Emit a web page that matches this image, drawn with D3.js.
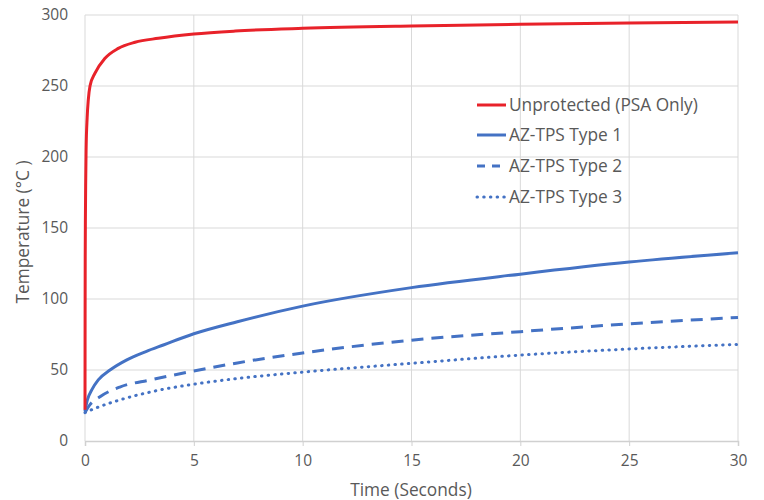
<!DOCTYPE html>
<html><head><meta charset="utf-8">
<script src="https://cdn.jsdelivr.net/npm/d3@7"></script>
<style>body{margin:0;background:#fff;} text{font-family:"Open Sans",sans-serif;fill:#595959;}</style>
</head><body><svg id="c" width="764" height="500"></svg>
<script>
const seriesNames = ["Unprotected (PSA Only)","AZ-TPS Type 1","AZ-TPS Type 2","AZ-TPS Type 3"];
const unprotectedT = [0,0.005,0.01,0.02,0.03,0.05,0.1,0.15,0.23,0.46,0.92,1.53,2.3,3.37,5,6.9,10,15,20,25,30];
const unprotectedV = [22,90,130,160,180,205,228,240,250,259,269.5,276.5,280.8,283.6,286.6,288.7,290.6,292.3,293.4,294.3,295];
const type1T = [0,0.11,0.31,0.61,1.15,1.9,2.8,3.6,5,7,10,15,20,25,30];
const type1V = [21,29,36,43,50,57,63,67.6,75.5,84,95,108,117.5,126,132.5];
const type2T = [0,0.2,0.69,1.6,3,5,7,10,15,20,25,30];
const type2V = [20,25,31.2,38,43,49.3,55,62,71,77,82.5,87];
const type3T = [0,0.46,1.6,3.3,5,7,10,15,20,25,30];
const type3V = [20,23,28.9,35.5,40,44,48.5,54.7,60.5,64.8,68];
const xTicks = [0,5,10,15,20,25,30];
const yTicks = [0,50,100,150,200,250,300];

const colors = ["#e8222a","#4472c4","#4472c4","#4472c4"];
const dashes = [null,null,"12,8","0.5,6.2"];

const svg = d3.select("#c");
const x = d3.scaleLinear().domain([0,30]).range([85,738]);
const y = d3.scaleLinear().domain([0,300]).range([441,15]);

// gridlines
svg.append("g").selectAll("line").data(yTicks.filter(d=>d>0)).join("line")
  .attr("x1",x(0)).attr("x2",x(30)).attr("y1",d=>y(d)).attr("y2",d=>y(d))
  .attr("stroke","#d9d9d9").attr("stroke-width",1);
svg.append("g").selectAll("line").data(xTicks).join("line")
  .attr("x1",d=>x(d)).attr("x2",d=>x(d)).attr("y1",y(0)).attr("y2",y(300))
  .attr("stroke","#d9d9d9").attr("stroke-width",1);

// x axis
const xAxis = svg.append("g").attr("transform",`translate(0,${y(0)})`)
  .call(d3.axisBottom(x).tickValues(xTicks).tickSize(5).tickPadding(9));
xAxis.select(".domain").attr("stroke","#d0d0d0").attr("stroke-width",1.5);
xAxis.selectAll(".tick line").attr("stroke","#d0d0d0");
xAxis.selectAll("text").attr("font-size",15.5).attr("fill","#595959").attr("font-family","'Open Sans', sans-serif");

// y axis
const yAxis = svg.append("g").attr("transform",`translate(${x(0)},0)`)
  .call(d3.axisLeft(y).tickValues(yTicks).tickSize(0).tickPadding(17));
yAxis.select(".domain").remove();
yAxis.selectAll("text").attr("font-size",15.5).attr("fill","#595959").attr("font-family","'Open Sans', sans-serif");

// titles
svg.append("text").attr("x",411).attr("y",496).attr("text-anchor","middle").attr("font-size",17.3).text("Time (Seconds)");
svg.append("text").attr("transform","translate(29,232) rotate(-90)").attr("text-anchor","middle").attr("font-size",17.3).text("Temperature (°C )");

const data = [
  unprotectedT.map((t,i)=>[t,unprotectedV[i]]),
  type1T.map((t,i)=>[t,type1V[i]]),
  type2T.map((t,i)=>[t,type2V[i]]),
  type3T.map((t,i)=>[t,type3V[i]])
];
const line = d3.line().x(d=>x(d[0])).y(d=>y(d[1])).curve(d3.curveMonotoneX);
[1,2,3,0].forEach(i=>{
  svg.append("path").datum(data[i]).attr("d",line).attr("fill","none")
    .attr("stroke",colors[i]).attr("stroke-width",3)
    .attr("stroke-linecap", i===3?"round":"butt")
    .attr("stroke-dasharray",dashes[i]);
});

// legend
const legY = [105,135,166,197];
seriesNames.forEach((n,i)=>{
  svg.append("line").attr("x1",477).attr("x2",506).attr("y1",legY[i]).attr("y2",legY[i])
    .attr("stroke",colors[i]).attr("stroke-width",3)
    .attr("stroke-linecap", i===3?"round":"butt")
    .attr("stroke-dasharray", i===2?"8,7":dashes[i]);
  svg.append("text").attr("x",509).attr("y",legY[i]).attr("dy","0.35em").attr("font-size",17.3).text(n);
});
</script></body></html>
